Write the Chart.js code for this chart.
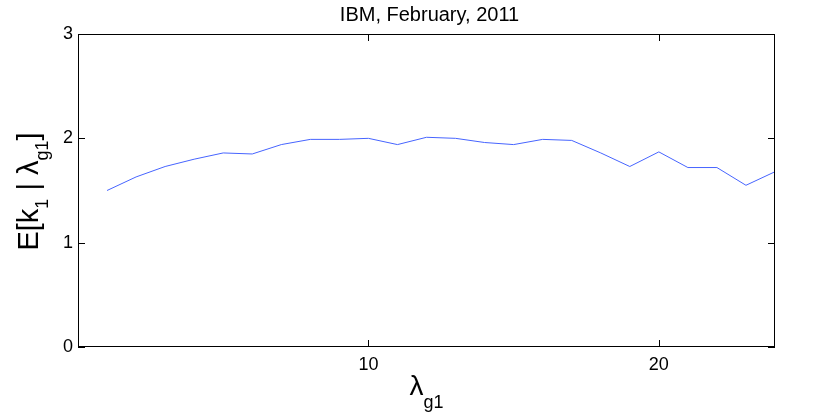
<!DOCTYPE html>
<html>
<head>
<meta charset="utf-8">
<script src="https://cdn.jsdelivr.net/npm/chart.js@4"></script>
<style>
  body { margin: 0; background: #fff; }
  #wrap { width: 830px; height: 417px; }
</style>
</head>
<body>
<div id="wrap"><canvas id="chart" width="830" height="417"></canvas></div>
<script>
const titleText = 'IBM, February, 2011';
const lambdaG1 = [1, 2, 3, 4, 5, 6, 7, 8, 9, 10, 11, 12, 13, 14, 15, 16, 17, 18, 19, 20, 21, 22, 23, 24];
const expectedK1 = [1.50, 1.63, 1.73, 1.80, 1.86, 1.85, 1.94, 1.99, 1.99, 2.00, 1.94, 2.01,
  2.00, 1.96, 1.94, 1.99, 1.98, 1.86, 1.73, 1.87, 1.72, 1.72, 1.55, 1.68];
const xTicks = [10, 20];
const yTicks = [0, 1, 2, 3];

const font = 'Liberation Sans, Arial, Helvetica, sans-serif';

// matlab style box + inward ticks + labels with subscripts
const matlabAxes = {
  id: 'matlabAxes',
  afterDraw(chart) {
    const { ctx, chartArea: a, scales } = chart;
    const len = 7;
    ctx.save();
    ctx.strokeStyle = '#000';
    ctx.lineWidth = 1;
    ctx.strokeRect(a.left + 0.5, a.top + 0.5, a.right - a.left - 1, a.bottom - a.top - 1);
    ctx.beginPath();
    xTicks.forEach((v) => {
      const px = Math.round(scales.x.getPixelForValue(v)) + 0.5;
      ctx.moveTo(px, a.bottom); ctx.lineTo(px, a.bottom - len);
      ctx.moveTo(px, a.top); ctx.lineTo(px, a.top + len);
    });
    yTicks.forEach((v) => {
      const py = Math.round(scales.y.getPixelForValue(v)) + 0.5;
      ctx.moveTo(a.left, py); ctx.lineTo(a.left + len, py);
      ctx.moveTo(a.right, py); ctx.lineTo(a.right - len, py);
    });
    ctx.stroke();

    ctx.fillStyle = '#000';
    ctx.textBaseline = 'alphabetic';

    // title
    ctx.font = `20px ${font}`;
    ctx.textAlign = 'center';
    ctx.fillText(titleText, (a.left + a.right) / 2 + 3, 21);

    // x label: lambda_g1
    ctx.textAlign = 'left';
    const xc = (a.left + a.right) / 2;
    ctx.font = `28px ${font}`;
    const wl = ctx.measureText('λ').width;
    ctx.font = `18px ${font}`;
    const wg = ctx.measureText('g1').width;
    const x0 = xc - (wl + wg) / 2;
    ctx.font = `28px ${font}`;
    ctx.fillText('λ', x0, 395);
    ctx.font = `18px ${font}`;
    ctx.fillText('g1', x0 + wl, 408);

    // y label: E[k_1 | lambda_g1]
    const parts = [
      ['E[k', 29, 0], ['1', 18, 10], [' | λ', 29, 0], ['g1', 18, 10], [']', 29, 0],
    ];
    let total = 0;
    parts.forEach((p) => { ctx.font = `${p[1]}px ${font}`; total += ctx.measureText(p[0]).width; });
    ctx.translate(38, (a.top + a.bottom) / 2 + 1);
    ctx.rotate(-Math.PI / 2);
    let cx = -total / 2;
    parts.forEach((p) => {
      ctx.font = `${p[1]}px ${font}`;
      ctx.fillText(p[0], cx, p[2]);
      cx += ctx.measureText(p[0]).width;
    });
    ctx.restore();
  },
};

new Chart(document.getElementById('chart'), {
  type: 'line',
  data: {
    datasets: [
      {
        data: lambdaG1.map((x, i) => ({ x, y: expectedK1[i] })),
        borderColor: 'rgb(70,100,255)',
        borderWidth: 1,
        pointRadius: 0,
        fill: false,
        tension: 0,
      },
    ],
  },
  options: {
    responsive: false,
    animation: false,
    devicePixelRatio: 1,
    layout: { padding: { top: 34, right: 55, left: 0, bottom: 0 } },
    plugins: { legend: { display: false }, title: { display: false }, tooltip: { enabled: false } },
    scales: {
      x: {
        type: 'linear',
        min: 0,
        max: 24,
        afterBuildTicks: (s) => { s.ticks = xTicks.map((v) => ({ value: v })); },
        afterFit: (s) => { s.height = 70; },
        grid: { display: false, drawTicks: false },
        border: { display: false },
        ticks: { color: '#000', font: { family: font, size: 18 }, padding: 7, maxRotation: 0 },
      },
      y: {
        min: 0,
        max: 3,
        afterBuildTicks: (s) => { s.ticks = yTicks.map((v) => ({ value: v })); },
        afterFit: (s) => { s.width = 78; },
        grid: { display: false, drawTicks: false },
        border: { display: false },
        ticks: { color: '#000', font: { family: font, size: 18 }, padding: 5 },
      },
    },
  },
  plugins: [matlabAxes],
});
</script>
</body>
</html>
